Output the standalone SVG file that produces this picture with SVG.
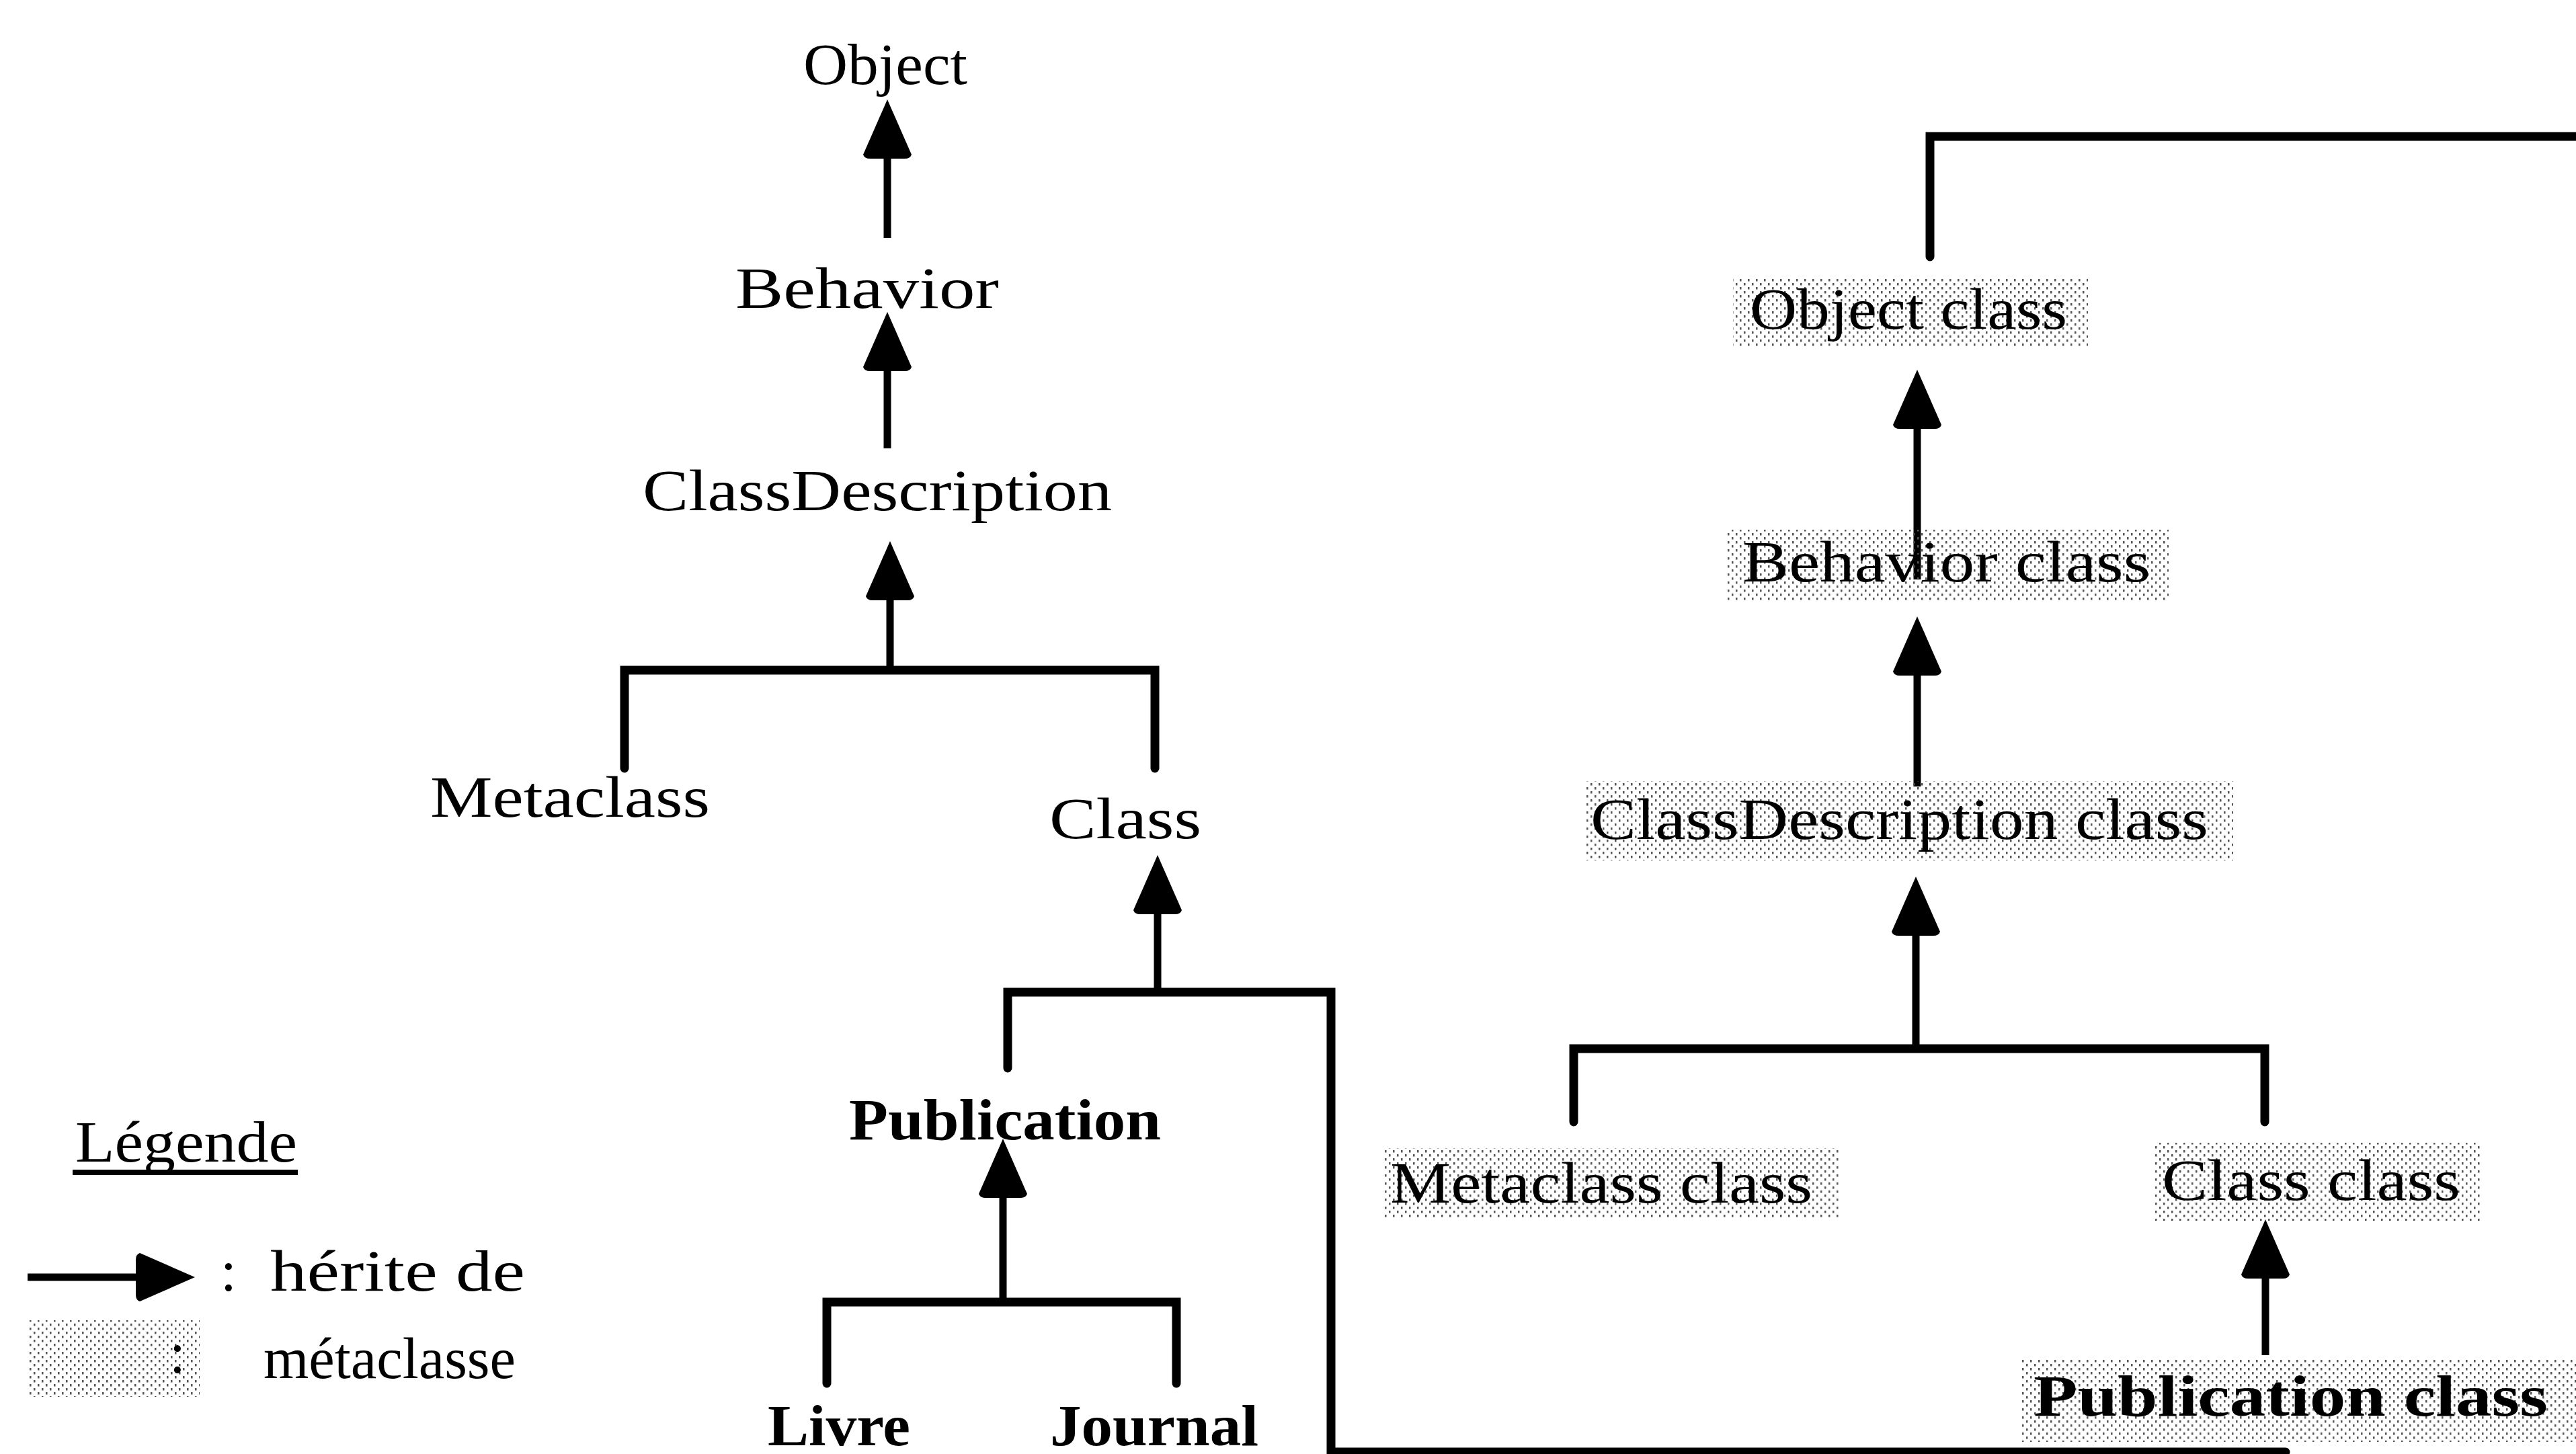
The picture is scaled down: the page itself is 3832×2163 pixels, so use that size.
<svg xmlns="http://www.w3.org/2000/svg" width="3832" height="2163" viewBox="0 0 3832 2163">
<style>
.t{font-family:"Liberation Serif","Times New Roman",serif;font-size:86px;fill:#000}
.b{font-weight:bold}
.ln{fill:none;stroke:#000;stroke-width:11;stroke-linecap:round;stroke-linejoin:miter}
.bar{fill:none;stroke:#000;stroke-width:13;stroke-linecap:round;stroke-linejoin:miter}
.arr{fill:none;stroke:#000;stroke-width:11;stroke-linecap:butt;marker-end:url(#ah)}
.meta{fill:url(#dots);stroke:none}
</style>
<defs>
<pattern id="dots" width="12" height="12" patternUnits="userSpaceOnUse">
<rect x="2" y="1" width="2.5" height="3.5" fill="#555"/>
<rect x="8" y="7" width="2.5" height="3.5" fill="#555"/>
</pattern>
<marker id="ah" markerUnits="userSpaceOnUse" markerWidth="92" markerHeight="76" viewBox="0 0 92 76" refX="2" refY="38" orient="auto">
<path d="M8,2 L90,38 L8,74 Q2,72 2,64 L2,12 Q2,4 8,2 Z" fill="#000"/>
</marker>
</defs>
<rect width="3832" height="2163" fill="#fff"/>

<g id="connectors">
<!-- left tree -->
<path class="arr" d="M1320,354 L1320,236"/>
<path class="arr" d="M1320,667 L1320,552"/>
<path class="arr" d="M1324,997 L1324,893"/>
<path class="bar" d="M929,1143 L929,997 L1718,997 L1718,1143"/>
<path class="arr" d="M1722,1476 L1722,1360"/>
<path class="bar" d="M1499,1589 L1499,1476 L1980,1476 L1980,2160 L3400,2160"/>
<path class="arr" d="M1492,1937 L1492,1782"/>
<path class="bar" d="M1230,2058 L1230,1937 L1750,1937 L1750,2058"/>
<!-- right tree -->
<path class="bar" d="M2871,382 L2871,203 L3840,203"/>
<path class="arr" d="M2852,862 L2852,638"/>
<path class="arr" d="M2852,1170 L2852,1005"/>
<path class="arr" d="M2850,1560 L2850,1392"/>
<path class="bar" d="M2341,1669 L2341,1560 L3369,1560 L3369,1669"/>
<path class="arr" d="M3370,2016 L3370,1902"/>
</g>

<g id="node-object"><text class="t" x="1195" y="125" textLength="244" lengthAdjust="spacingAndGlyphs">Object</text></g>
<g id="node-behavior"><text class="t" x="1094" y="458" textLength="392" lengthAdjust="spacingAndGlyphs">Behavior</text></g>
<g id="node-classdescription"><text class="t" x="956" y="759" textLength="698" lengthAdjust="spacingAndGlyphs">ClassDescription</text></g>
<g id="node-metaclass"><text class="t" x="640" y="1215" textLength="416" lengthAdjust="spacingAndGlyphs">Metaclass</text></g>
<g id="node-class"><text class="t" x="1561" y="1247" textLength="226" lengthAdjust="spacingAndGlyphs">Class</text></g>
<g id="node-publication"><text class="t b" x="1263" y="1695" textLength="464" lengthAdjust="spacingAndGlyphs">Publication</text></g>
<g id="node-livre"><text class="t b" x="1142" y="2150" textLength="212" lengthAdjust="spacingAndGlyphs">Livre</text></g>
<g id="node-journal"><text class="t b" x="1562" y="2150" textLength="310" lengthAdjust="spacingAndGlyphs">Journal</text></g>

<g id="node-object-class"><rect class="meta" x="2578" y="413" width="528" height="103"/><text class="t" x="2603" y="489" textLength="472" lengthAdjust="spacingAndGlyphs">Object class</text></g>
<g id="node-behavior-class"><rect class="meta" x="2567" y="788" width="659" height="105"/><text class="t" x="2592" y="865" textLength="607" lengthAdjust="spacingAndGlyphs">Behavior class</text></g>
<g id="node-classdescription-class"><rect class="meta" x="2360" y="1162" width="962" height="118"/><text class="t" x="2366" y="1248" textLength="919" lengthAdjust="spacingAndGlyphs">ClassDescription class</text></g>
<g id="node-metaclass-class"><rect class="meta" x="2060" y="1708" width="677" height="105"/><text class="t" x="2068" y="1789" textLength="628" lengthAdjust="spacingAndGlyphs">Metaclass class</text></g>
<g id="node-class-class"><rect class="meta" x="3205" y="1700" width="485" height="116"/><text class="t" x="3216" y="1785" textLength="444" lengthAdjust="spacingAndGlyphs">Class class</text></g>
<g id="node-publication-class"><rect class="meta" x="3008" y="2022" width="824" height="123"/><text class="t b" x="3025" y="2106" textLength="765" lengthAdjust="spacingAndGlyphs">Publication class</text></g>

<g id="legend">
<text class="t" x="112" y="1728" textLength="330" lengthAdjust="spacingAndGlyphs">Légende</text>
<line x1="108" y1="1744" x2="443" y2="1744" stroke="#000" stroke-width="8"/>
<path class="arr" d="M41,1900 L202,1900"/>
<text class="t" x="328" y="1920">:</text>
<text class="t" x="402" y="1920" textLength="379" lengthAdjust="spacingAndGlyphs">hérite de</text>
<rect class="meta" x="41" y="1964" width="256" height="114"/>
<text class="t" x="252" y="2042">:</text>
<text class="t" x="392" y="2050" textLength="375" lengthAdjust="spacingAndGlyphs">métaclasse</text>
</g>
</svg>
